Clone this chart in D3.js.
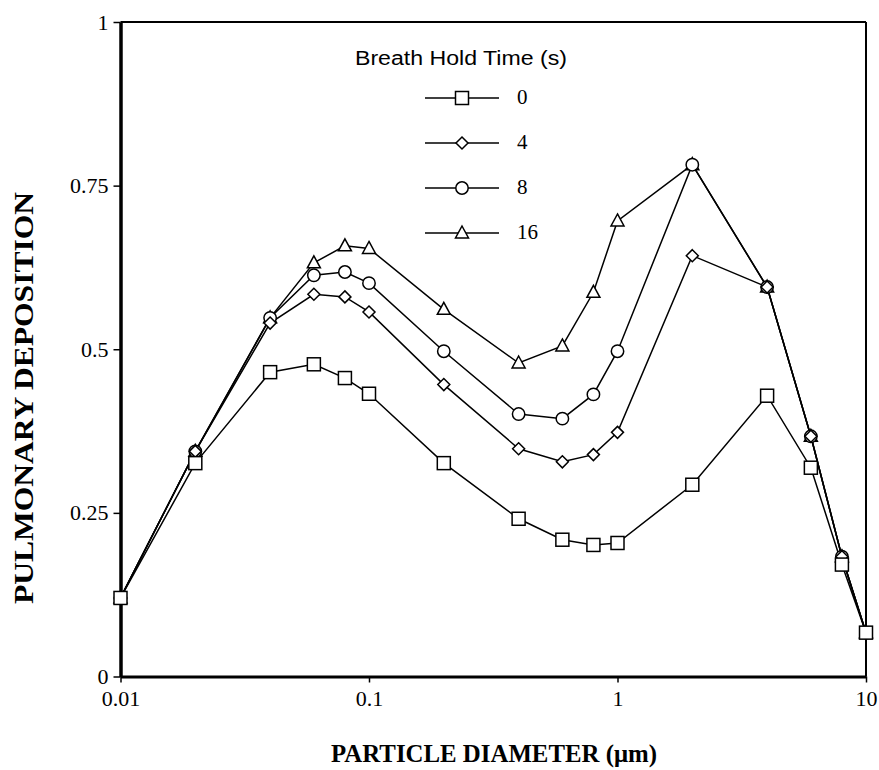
<!DOCTYPE html>
<html>
<head>
<meta charset="utf-8">
<script src="https://cdn.jsdelivr.net/npm/d3@7"></script>
<style>
  html, body { margin: 0; padding: 0; background: #fff; }
  svg { display: block; }
</style>
</head>
<body>
<svg id="chart" width="879" height="770"></svg>
<script>
// ---- Data ----
const diameters = [0.01, 0.02, 0.04, 0.06, 0.08, 0.1, 0.2, 0.4, 0.6, 0.8, 1, 2, 4, 6, 8, 10];
const hold0  = [0.120, 0.326, 0.465, 0.477, 0.456, 0.432, 0.326, 0.241, 0.209, 0.201, 0.204, 0.293, 0.429, 0.319, 0.171, 0.067];
const hold4  = [0.120, 0.344, 0.540, 0.584, 0.580, 0.557, 0.446, 0.348, 0.328, 0.339, 0.373, 0.643, 0.595, 0.367, 0.183, 0.067];
const hold8  = [0.120, 0.344, 0.548, 0.613, 0.618, 0.601, 0.497, 0.401, 0.394, 0.431, 0.497, 0.782, 0.595, 0.367, 0.183, 0.067];
const hold16 = [0.120, 0.344, 0.548, 0.632, 0.658, 0.654, 0.561, 0.479, 0.505, 0.587, 0.696, 0.782, 0.595, 0.367, 0.183, 0.067];
const seriesNames = ["0", "4", "8", "16"];
const seriesMarkers = ["square", "diamond", "circle", "triangle"];
const xTicks = [0.01, 0.1, 1, 10];
const xTickLabels = ["0.01", "0.1", "1", "10"];
const yTicks = [0, 0.25, 0.5, 0.75, 1];
const yTickLabels = ["0", "0.25", "0.5", "0.75", "1"];
const legendTitle = "Breath Hold Time (s)";
const xTitle = "PARTICLE DIAMETER (\u03BCm)";
const yTitle = "PULMONARY DEPOSITION";

const seriesValues = [hold0, hold4, hold8, hold16];

// ---- Layout ----
const svg = d3.select("#chart");
const L = 120.5, R = 866, T = 22, B = 676.5;
const x = d3.scaleLog().domain([0.01, 10]).range([L, R]);
const y = d3.scaleLinear().domain([0, 1]).range([B, T]);
const serif = "'Liberation Serif', 'Times New Roman', serif";
const sans = "'Liberation Sans', Arial, sans-serif";

// frame: top & right thinner, left & bottom thicker
svg.append("line").attr("x1", L).attr("x2", R).attr("y1", T).attr("y2", T)
  .attr("stroke", "#000").attr("stroke-width", 2);
svg.append("line").attr("x1", R).attr("x2", R).attr("y1", T).attr("y2", B)
  .attr("stroke", "#000").attr("stroke-width", 2);

// axes
const yAxis = d3.axisLeft(y).tickValues(yTicks)
  .tickFormat((d, i) => yTickLabels[i]).tickSize(7).tickSizeOuter(0).tickPadding(5);
const gy = svg.append("g").attr("transform", `translate(${L},0)`).call(yAxis);
gy.select(".domain").attr("stroke-width", 3.5);
gy.selectAll(".tick line").attr("stroke-width", 1.5);
gy.selectAll(".tick text").attr("font-family", serif).attr("font-size", 22).attr("fill", "#000");

const xAxis = d3.axisBottom(x).tickValues(xTicks)
  .tickFormat((d, i) => xTickLabels[i]).tickSize(6).tickSizeOuter(0).tickPadding(8);
const gx = svg.append("g").attr("transform", `translate(0,${B})`).call(xAxis);
gx.select(".domain").attr("stroke-width", 3);
gx.selectAll(".tick line").attr("stroke-width", 1.5);
gx.selectAll(".tick text").attr("font-family", serif).attr("font-size", 22).attr("fill", "#000");

// marker drawing
function drawMarker(g, type, cx, cy) {
  const sw = 1.5;
  if (type === "square") {
    g.append("rect").attr("x", cx - 6.5).attr("y", cy - 6.5).attr("width", 13).attr("height", 13)
      .attr("fill", "#fff").attr("stroke", "#000").attr("stroke-width", sw);
  } else if (type === "diamond") {
    g.append("path").attr("d", `M${cx},${cy - 6}L${cx + 6},${cy}L${cx},${cy + 6}L${cx - 6},${cy}Z`)
      .attr("fill", "#fff").attr("stroke", "#000").attr("stroke-width", sw);
  } else if (type === "circle") {
    g.append("circle").attr("cx", cx).attr("cy", cy).attr("r", 6.2)
      .attr("fill", "#fff").attr("stroke", "#000").attr("stroke-width", sw);
  } else if (type === "triangle") {
    g.append("path").attr("d", `M${cx},${cy - 7}L${cx + 6.5},${cy + 5}L${cx - 6.5},${cy + 5}Z`)
      .attr("fill", "#fff").attr("stroke", "#000").attr("stroke-width", sw);
  }
}

const line = d3.line().x(d => x(d[0])).y(d => y(d[1]));

// lines first, then markers
const plot = svg.append("g");
seriesValues.forEach((vals, s) => {
  const pts = diameters.map((d, i) => [d, vals[i]]);
  plot.append("path").attr("d", line(pts)).attr("fill", "none")
    .attr("stroke", "#000").attr("stroke-width", 1.5);
});
[3, 2, 1, 0].forEach(s => {
  const g = plot.append("g");
  diameters.forEach((d, i) => drawMarker(g, seriesMarkers[s], x(d), y(seriesValues[s][i])));
});

// legend
const lg = svg.append("g");
lg.append("text").attr("x", 355).attr("y", 65).attr("font-family", sans).attr("font-size", 20)
  .attr("textLength", 212).attr("lengthAdjust", "spacingAndGlyphs").text(legendTitle);
seriesNames.forEach((name, i) => {
  const ry = 98 + i * 45;
  lg.append("line").attr("x1", 425).attr("x2", 499).attr("y1", ry).attr("y2", ry)
    .attr("stroke", "#000").attr("stroke-width", 1.5);
  drawMarker(lg, seriesMarkers[i], 462, ry);
  lg.append("text").attr("x", 517).attr("y", ry + 6).attr("font-family", serif)
    .attr("font-size", 21).text(name);
});

// axis titles
svg.append("text").attr("x", 494).attr("y", 762).attr("text-anchor", "middle")
  .attr("font-family", serif).attr("font-weight", "bold").attr("font-size", 25)
  .attr("textLength", 326).attr("lengthAdjust", "spacingAndGlyphs").text(xTitle);
svg.append("text").attr("transform", "translate(33,398) rotate(-90)").attr("text-anchor", "middle")
  .attr("font-family", serif).attr("font-weight", "bold").attr("font-size", 27)
  .attr("textLength", 412).attr("lengthAdjust", "spacingAndGlyphs").text(yTitle);
</script>
</body>
</html>
